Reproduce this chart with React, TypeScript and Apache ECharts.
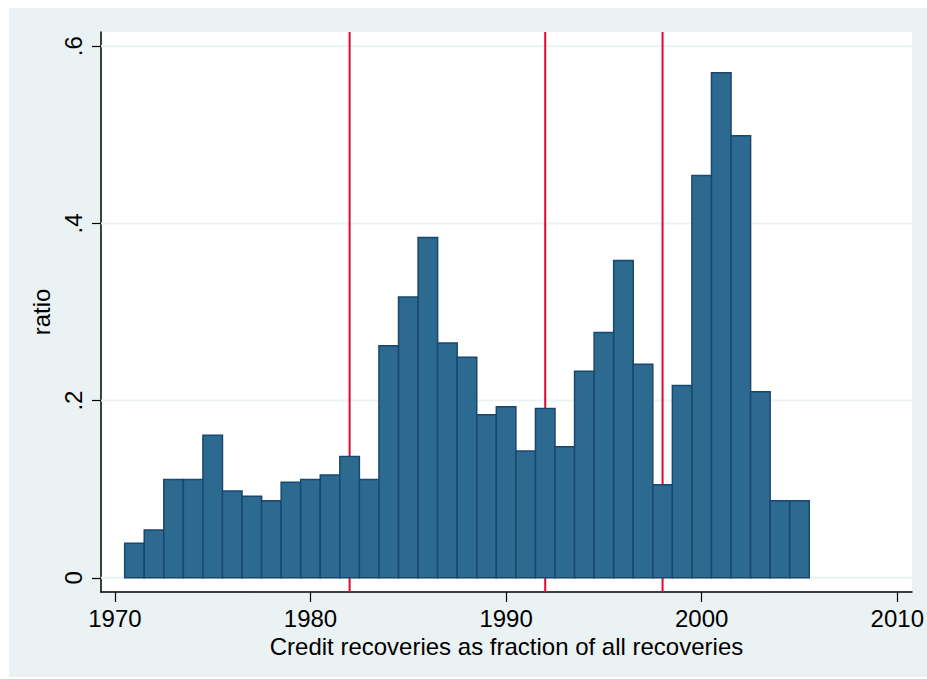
import React, { useEffect, useRef } from "react";
import * as echarts from "echarts";

const years = [
  1971, 1972, 1973, 1974, 1975, 1976, 1977, 1978, 1979, 1980,
  1981, 1982, 1983, 1984, 1985, 1986, 1987, 1988, 1989, 1990,
  1991, 1992, 1993, 1994, 1995, 1996, 1997, 1998, 1999, 2000,
  2001, 2002, 2003, 2004, 2005,
];
const ratios = [
  0.039, 0.054, 0.111, 0.111, 0.161, 0.098, 0.092, 0.087, 0.108, 0.111,
  0.116, 0.137, 0.111, 0.262, 0.317, 0.384, 0.265, 0.249, 0.184, 0.193,
  0.143, 0.191, 0.148, 0.233, 0.277, 0.358, 0.241, 0.105, 0.217, 0.454,
  0.570, 0.499, 0.210, 0.087, 0.087,
];
const xTicks = [1970, 1980, 1990, 2000, 2010];
const yTicks = [0, 0.2, 0.4, 0.6];
const markerYears = [1982, 1992, 1998];

const FONT = "'Liberation Sans', Arial, Helvetica, sans-serif";

export default function App() {
  const ref = useRef<HTMLDivElement>(null);
  useEffect(() => {
    if (!ref.current) return;
    const chart = echarts.init(ref.current, undefined, { renderer: "svg" });
    const data = years.map((y, i) => [y, ratios[i]]);
    chart.setOption({
      animation: false,
      backgroundColor: "transparent",
      textStyle: { fontFamily: FONT },
      graphic: [
        {
          type: "rect",
          z: -10,
          silent: true,
          shape: { x: 9, y: 8, width: 918, height: 669 },
          style: { fill: "#eaf2f3" },
        },
      ],
      grid: {
        left: 101,
        right: 12,
        top: 32,
        bottom: 87,
        show: true,
        backgroundColor: "#ffffff",
        borderWidth: 0,
      },
      xAxis: {
        type: "value",
        min: 1969.29,
        max: 2010.75,
        name: "Credit recoveries as fraction of all recoveries",
        nameLocation: "middle",
        nameGap: 40,
        nameTextStyle: { fontFamily: FONT, fontSize: 24, color: "#000" },
        axisLine: { show: true, onZero: false, lineStyle: { color: "#000", width: 1.5 } },
        axisTick: {
          show: true,
          length: 10,
          customValues: xTicks,
          lineStyle: { color: "#000", width: 1.2 },
        },
        axisLabel: {
          show: true,
          customValues: xTicks,
          margin: 14,
          fontFamily: FONT,
          fontSize: 24,
          color: "#000",
          formatter: (v: number) => String(Math.round(v)),
        },
        splitLine: { show: false },
      },
      yAxis: {
        type: "value",
        min: -0.016,
        max: 0.616,
        name: "ratio",
        nameLocation: "middle",
        nameRotate: 90,
        nameGap: 40,
        nameTextStyle: { fontFamily: FONT, fontSize: 24, color: "#000" },
        axisLine: { show: true, lineStyle: { color: "#000", width: 1.5 } },
        axisTick: {
          show: true,
          length: 9,
          customValues: yTicks,
          lineStyle: { color: "#000", width: 1.2 },
        },
        axisLabel: {
          show: true,
          customValues: yTicks,
          rotate: 90,
          margin: 16,
          fontFamily: FONT,
          fontSize: 24,
          color: "#000",
          formatter: (v: number) => (Math.abs(v) < 1e-9 ? "0" : String(Number(v.toFixed(1))).replace(/^0/, "")),
        },
        splitLine: { show: false },
      },
      series: [
        {
          type: "custom",
          z: 1,
          silent: true,
          data: yTicks.map((v) => [v]),
          renderItem: (params: any, api: any) => {
            const cs = params.coordSys;
            const p = api.coord([1990, api.value(0)]);
            return {
              type: "line",
              shape: { x1: cs.x, y1: p[1], x2: cs.x + cs.width, y2: p[1] },
              style: { stroke: "#eaf2f3", lineWidth: 2 },
            };
          },
        },
        {
          type: "custom",
          z: 2,
          silent: true,
          data: markerYears.map((v) => [v]),
          renderItem: (params: any, api: any) => {
            const cs = params.coordSys;
            const p = api.coord([api.value(0), 0]);
            return {
              type: "line",
              shape: { x1: p[0], y1: cs.y, x2: p[0], y2: cs.y + cs.height },
              style: { stroke: "#e4072f", lineWidth: 2 },
            };
          },
        },
        {
          type: "custom",
          z: 3,
          data,
          encode: { x: 0, y: 1 },
          renderItem: (params: any, api: any) => {
            const x = api.value(0);
            const y = api.value(1);
            const p0 = api.coord([x - 0.5, y]);
            const p1 = api.coord([x + 0.5, 0]);
            return {
              type: "rect",
              shape: { x: p0[0], y: p0[1], width: p1[0] - p0[0], height: p1[1] - p0[1] },
              style: { fill: "#2c6a8f", stroke: "#1a476f", lineWidth: 1.5 },
            };
          },
        },
      ],
    });
    return () => chart.dispose();
  }, []);
  return (
    <div
      ref={ref}
      style={{ position: "absolute", left: 0, top: 0, width: 927, height: 679 }}
    />
  );
}
